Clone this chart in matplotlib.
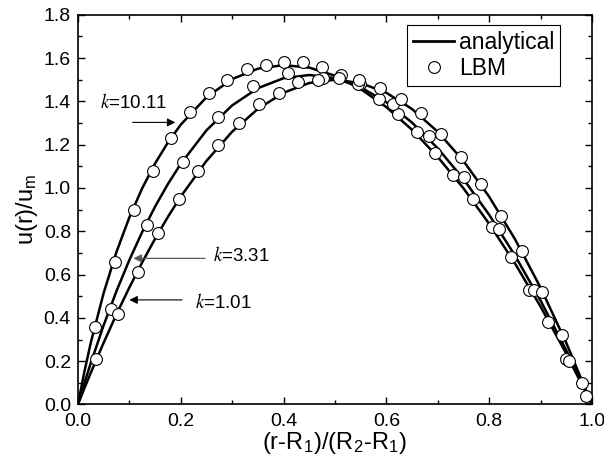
import matplotlib
matplotlib.use("Agg")
import matplotlib.pyplot as plt
from matplotlib.lines import Line2D

plt.rcParams['font.family'] = ['Liberation Sans', 'DejaVu Sans']
plt.rcParams['mathtext.fontset'] = 'stix'

# analytical profiles, x = (r-R1)/(R2-R1)
xi = [0, 0.0125, 0.025, 0.05, 0.075, 0.1, 0.125, 0.15, 0.175, 0.2,
      0.25, 0.3, 0.35, 0.4, 0.45, 0.5, 0.55, 0.6, 0.65, 0.7, 0.75, 0.8, 0.85, 0.9, 0.95, 1.0]
u_k10 = [0, 0.1506, 0.2848, 0.5147, 0.7045, 0.8637, 0.9984, 1.1128, 1.2100, 1.2923,
         1.4190, 1.5031, 1.5511, 1.5677, 1.5562, 1.5188, 1.4576, 1.3739, 1.2690, 1.1437,
         0.9988, 0.8350, 0.6528, 0.4527, 0.2349, 0]
u_k3 = [0, 0.0980, 0.1914, 0.3655, 0.5236, 0.6670, 0.7966, 0.9134, 1.0181, 1.1114,
        1.2661, 1.3815, 1.4610, 1.5071, 1.5220, 1.5076, 1.4653, 1.3965, 1.3023, 1.1837,
        1.0416, 0.8766, 0.6893, 0.4805, 0.2506, 0]
u_k1 = [0, 0.0741, 0.1463, 0.285, 0.4163, 0.54, 0.6563, 0.765, 0.8663, 0.96,
        1.125, 1.26, 1.365, 1.44, 1.485, 1.5, 1.485, 1.44, 1.365, 1.26,
        1.125, 0.96, 0.765, 0.54, 0.285, 0]

# LBM points
lbm_x_k10 = [0.034, 0.072, 0.110, 0.146, 0.182, 0.218, 0.255, 0.291, 0.328, 0.365, 0.401,
             0.438, 0.475, 0.512, 0.549, 0.586, 0.622, 0.659, 0.695, 0.730, 0.768, 0.805,
             0.842, 0.878, 0.915, 0.949, 0.988]
lbm_y_k10 = [0.36, 0.66, 0.90, 1.08, 1.23, 1.35, 1.44, 1.50, 1.55, 1.57, 1.58,
             1.58, 1.56, 1.52, 1.48, 1.41, 1.34, 1.26, 1.16, 1.06, 0.95, 0.82,
             0.68, 0.53, 0.38, 0.21, 0.04]
lbm_x_k3 = [0.064, 0.135, 0.204, 0.273, 0.341, 0.409, 0.476, 0.545, 0.613, 0.683,
            0.751, 0.820, 0.888, 0.956]
lbm_y_k3 = [0.44, 0.83, 1.12, 1.33, 1.47, 1.53, 1.51, 1.48, 1.39, 1.24,
            1.05, 0.81, 0.53, 0.20]
lbm_x_k1 = [0.036, 0.078, 0.117, 0.156, 0.196, 0.234, 0.273, 0.313, 0.352, 0.391,
            0.429, 0.468, 0.507, 0.546, 0.588, 0.628, 0.667, 0.706, 0.745, 0.784,
            0.824, 0.863, 0.902, 0.941, 0.980]
lbm_y_k1 = [0.21, 0.42, 0.61, 0.79, 0.95, 1.08, 1.20, 1.30, 1.39, 1.44,
            1.49, 1.50, 1.51, 1.50, 1.46, 1.41, 1.345, 1.25, 1.145, 1.02,
            0.87, 0.71, 0.52, 0.32, 0.10]

fig = plt.figure(figsize=(6.04, 4.63), dpi=100)
ax = fig.add_axes([0.129, 0.1264, 0.851, 0.8416])

for u in (u_k10, u_k3, u_k1):
    ax.plot(xi, u, color="k", lw=1.8, zorder=2)

for lx, ly in ((lbm_x_k10, lbm_y_k10), (lbm_x_k3, lbm_y_k3), (lbm_x_k1, lbm_y_k1)):
    ax.plot(lx, ly, ls="none", marker="o", ms=8.5, mfc="white", mec="k", mew=0.8, zorder=3)

# labels with arrows
ax.annotate("", xy=(0.195, 1.303), xytext=(0.101, 1.303),
            arrowprops=dict(arrowstyle="-|>", color="k", lw=0.8, mutation_scale=12))
ax.text(0.108, 1.393, "$k$=10.11", ha="center", va="center", fontsize=13.5)
ax.annotate("", xy=(0.1025, 0.675), xytext=(0.253, 0.675),
            arrowprops=dict(arrowstyle="-|>", color="0.35", lw=0.9, mutation_scale=12))
ax.text(0.263, 0.686, "$k$=3.31", ha="left", va="center", fontsize=13.5)
ax.annotate("", xy=(0.0947, 0.483), xytext=(0.208, 0.483),
            arrowprops=dict(arrowstyle="-|>", color="k", lw=0.8, mutation_scale=12))
ax.text(0.228, 0.47, "$k$=1.01", ha="left", va="center", fontsize=13.5)

ax.set_xlim(0, 1.0)
ax.set_ylim(0, 1.8)
ax.set_xticks([0.0, 0.2, 0.4, 0.6, 0.8, 1.0])
ax.set_xticks([0.1, 0.3, 0.5, 0.7, 0.9], minor=True)
ax.set_yticks([0.0, 0.2, 0.4, 0.6, 0.8, 1.0, 1.2, 1.4, 1.6, 1.8])
ax.set_yticks([0.1, 0.3, 0.5, 0.7, 0.9, 1.1, 1.3, 1.5, 1.7], minor=True)
ax.xaxis.set_major_formatter(plt.FormatStrFormatter("%.1f"))
ax.yaxis.set_major_formatter(plt.FormatStrFormatter("%.1f"))
ax.tick_params(which="both", direction="in", top=True, right=True, labelsize=14, width=1)
ax.tick_params(which="major", length=5)
ax.tick_params(which="minor", length=3)
ax.tick_params(axis="x", pad=6)
ax.tick_params(axis="y", pad=5)
for s in ax.spines.values():
    s.set_linewidth(1.2)

ax.set_xlabel("(r-R$_\\mathregular{1}$)/(R$_\\mathregular{2}$-R$_\\mathregular{1}$)", fontsize=17, labelpad=0)
ax.set_ylabel("u(r)/u$_\\mathregular{m}$", fontsize=17, labelpad=3)

handles = [Line2D([], [], color="k", lw=2),
           Line2D([], [], ls="none", marker="o", ms=8.5, mfc="white", mec="k", mew=0.8)]
leg = ax.legend(handles, ["analytical", "LBM"], loc="upper right", bbox_to_anchor=(0.938, 0.974),
                fontsize=16.5, fancybox=False, edgecolor="k", framealpha=1,
                handlelength=1.8, handletextpad=0.2, borderpad=0.25, labelspacing=0.15,
                borderaxespad=0)
leg.get_frame().set_linewidth(0.8)

plt.savefig("out.png", dpi=100)
